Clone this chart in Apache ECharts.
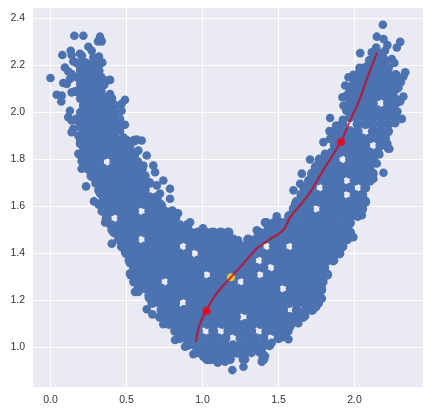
<!DOCTYPE html>
<html><head><meta charset="utf-8">
<style>html,body{margin:0;padding:0;background:#fff}#c{width:429px;height:414px}</style>
<script src="https://cdn.jsdelivr.net/npm/echarts@6/dist/echarts.min.js"></script>
</head><body><div id="c"></div>
<script>
const xTicks=[0,0.5,1,1.5,2];
const yTicks=[1,1.2,1.4,1.6,1.8,2,2.2,2.4];
const pathX=[.957,.970,.990,1.023,1.063,1.115,1.187,1.266,1.359,1.444,1.530,1.576,1.641,1.707,1.793,1.911,1.970,2.030,2.089,2.148];
const pathY=[1.023,1.074,1.113,1.155,1.202,1.248,1.299,1.355,1.423,1.461,1.499,1.554,1.605,1.660,1.754,1.877,1.966,2.051,2.157,2.255];
const redPoints=[[1.026,1.155],[1.911,1.875]];
const yellowPoint=[[1.187,1.299]];
const edgePoints=[[.157,2.327],[.216,2.327],[.326,2.323],[.313,2.303],[.337,2.303],[.078,2.245],[.133,2.263],[.139,2.245],[.194,2.25],[.207,2.242],[.249,2.28],[.271,2.263],[.282,2.235],[.319,2.238],[.341,2.213],[.15,2.218],[.095,2.192],[.117,2.175],[.139,2.164],[0,2.147],[.084,2.126],[.107,2.122],[.128,2.143],[.041,2.076],[.074,2.072],[.071,2.047],[.139,2.086],[.161,2.09],[.392,2.139],[.365,2.136],[.321,2.178],[.326,2.207],[.392,2.079],[.359,2.065],[.49,2.054],[.468,2.037],[.468,2.008],[.424,1.997],[.128,2.008],[.117,1.98],[.139,1.966],[.15,1.931],[.139,1.916],[.457,1.973],[.49,1.948],[.457,1.923],[.183,1.902],[.479,1.895],[.567,1.885],
[.194,1.867],[.183,1.825],[.205,1.793],[.205,1.761],[.234,1.686],[.282,1.732],[.304,1.704],[.326,1.656],[.286,1.622],[.337,1.58],[.359,1.532],[.403,1.499],[.403,1.442],[.49,1.421],[.6,1.881],[.578,1.838],[.633,1.817],[.611,1.775],[.676,1.775],[.688,1.746],[.742,1.711],[.699,1.69],[.786,1.676],[.72,1.655],[.786,1.633],[.732,1.605],[.839,1.571],
[1.003,1.507],[1.056,1.49],[1.159,1.486],[1.234,1.456],[1.094,1.453],[1.357,1.499],[1.258,1.428],[.918,1.533],
[1.488,1.558],[1.565,1.551],[1.411,1.533],[1.609,1.612],[1.686,1.648],[1.598,1.669],[1.642,1.697],[1.653,1.74],[1.707,1.8],[1.74,1.768],[1.806,1.825],[1.795,1.874],[1.839,1.888],[1.835,1.921],[1.879,1.945],[1.839,1.977],[1.923,1.969],[1.949,2.008],[1.927,2.03],[1.92,2.065],[2.015,2.079],[1.938,2.115],[1.971,2.11],[1.96,2.15],[1.992,2.161],[2.032,2.19],[2.091,2.178],[2.168,2.178],[2.037,2.253],[2.113,2.256],[2.142,2.277],[2.146,2.323],[2.186,2.374],[2.19,2.313],[2.216,2.287],[2.2,2.263],[2.186,2.235],[2.3,2.301],[2.278,2.277],[2.245,2.228],[2.262,2.211],[2.333,2.171],[2.321,2.153],[2.288,2.105],[2.245,2.136],[2.321,2.068],[2.267,2.061],[2.3,2.047],[2.282,2.004],[2.223,2.001],[2.311,1.973],[2.267,1.955],[2.216,1.867],[2.229,1.846],[2.163,1.822],[2.135,1.789],[2.19,1.744],[2.124,1.718],[2.069,1.626],[2.048,1.563],[1.959,1.52],[1.992,1.47],[2.146,1.783],[2.22,1.847],
[1.817,1.315],[1.773,1.279],[1.785,1.244],[1.785,1.209],[1.747,1.173],[1.675,1.134],[1.63,1.103],[1.615,1.142],[1.576,1.088],[1.565,1.035],[1.523,1.044],[1.455,1.02],[1.39,.982],[1.39,.94],[1.411,.964],[1.269,.918],[1.196,.904],[1.28,.95],[1.229,.975],[1.752,1.358],[1.872,1.413],[1.839,1.392],
[.523,1.359],[.523,1.316],[.556,1.237],[.578,1.237],[.648,1.211],[.633,1.163],[.67,1.141],[.732,1.16],[.742,1.099],[.819,1.032],[.885,1.003],[.94,.972],[1.005,.961],[1.05,.947],[1.1,.935],[1.148,.94],[.468,1.449],[.49,1.407],[.852,1.095]];
const rowY=[2.25,2.22,2.21,2.19,2.18,2.16,2.15,2.13,2.12,2.10,2.09,2.07,2.06,2.04,2.03,2.01,2.00,1.98,1.97,1.95,1.94,1.92,1.91,1.89,1.88,1.86,1.85,1.83,1.82,1.80,1.79,1.77,1.76,1.74,1.73,1.71,1.70,1.68,1.67,1.65,1.64,1.62,1.61,1.59,1.58,1.56,1.55,1.53,1.52,1.51,1.49,1.46,1.43,1.40,1.37,1.34,1.31,1.28,1.25,1.22,1.19,1.16,1.13,1.10,1.07,1.04,1.01,.98,.95];
const rowX=[
[2.13,2.18],
[2.1,2.15,2.2],
[.18,.23,.28],
[2.07,2.12,2.17,2.22],
[.2,.25,.3],
[2.02,2.07,2.12,2.17,2.22,2.27],
[.18,.23,.28,.33],
[2,2.05,2.1,2.15,2.2,2.25,2.3],
[.2,.25,.3,.35],
[1.97,2.02,2.07,2.12,2.17,2.22,2.27],
[.18,.23,.28,.33],
[1.95,2,2.05,2.1,2.15,2.2,2.25],
[.2,.25,.3,.35,.4],
[1.97,2.02,2.07,2.12,2.22,2.27],
[.22,.27,.32,.37,.42],
[1.95,2,2.05,2.1,2.15,2.2,2.25],
[.2,.25,.3,.35,.4],
[1.97,2.02,2.07,2.12,2.17,2.22,2.27],
[.17,.22,.27,.32,.37,.42],
[1.92,2.02,2.07,2.12,2.17,2.22],
[.2,.25,.3,.35,.4,.45],
[1.87,1.92,1.97,2.02,2.12,2.17,2.22],
[.22,.27,.32,.37,.42],
[1.85,1.9,1.95,2,2.05,2.1,2.15,2.2],
[.2,.25,.3,.35,.4,.45,.5,.55],
[1.87,1.92,1.97,2.02,2.07,2.17],
[.22,.27,.32,.37,.42,.47,.52],
[1.85,1.9,1.95,2,2.05,2.1,2.15],
[.2,.25,.3,.35,.4,.45,.5,.55],
[1.77,1.82,1.87,1.97,2.02,2.07,2.12],
[.22,.27,.32,.42,.47,.52,.57],
[1.75,1.8,1.85,1.9,1.95,2,2.05,2.1],
[.25,.3,.35,.4,.45,.5,.55,.6],
[1.72,1.77,1.82,1.87,1.92,1.97,2.02,2.07,2.12],
[.27,.32,.37,.42,.47,.52,.57,.62],
[1.7,1.75,1.8,1.85,1.9,2,2.05,2.1],
[.3,.35,.4,.45,.5,.55,.6,.65],
[1.67,1.72,1.82,1.87,1.92,1.97,2.07],
[.32,.37,.42,.47,.52,.57,.62],
[1.65,1.7,1.75,1.8,1.85,1.9,2,2.05],
[.35,.4,.45,.5,.55,.6,.65,.7],
[1.62,1.67,1.72,1.77,1.82,1.87,1.92,1.97,2.02,2.07],
[.32,.37,.42,.47,.52,.57,.62,.67,.72],
[1.6,1.65,1.7,1.8,1.85,1.9,1.95,2,2.05],
[.35,.4,.45,.5,.55,.65,.7,.75,.8],
[1.57,1.62,1.67,1.72,1.77,1.82,1.87,1.92,1.97,2.02],
[.37,.47,.52,.57,.62,.67,.72,.77,.82],
[1.42,1.47,1.52,1.57,1.62,1.67,1.72,1.77,1.82,1.87,1.92,1.97],
[.4,.45,.5,.55,.6,.65,.7,.75,.8,.85,.9],
[1.44,1.49,1.54,1.59,1.64,1.69,1.74,1.79,1.84,1.89,1.94],
[.42,.47,.52,.57,.62,.67,.72,.77,.82,.87,.92,.97,1.02,1.07,1.12,1.17,1.37,1.42,1.47,1.52,1.57,1.62,1.67,1.72,1.77,1.82,1.87,1.92,1.97],
[.45,.5,.55,.65,.7,.75,.8,.85,.9,.95,1,1.05,1.1,1.15,1.2,1.3,1.35,1.4,1.45,1.5,1.55,1.6,1.65,1.7,1.75,1.8,1.85,1.9,1.95],
[.47,.52,.57,.62,.67,.72,.77,.82,.92,.97,1.02,1.07,1.12,1.17,1.22,1.27,1.32,1.37,1.47,1.52,1.62,1.67,1.72,1.77,1.82,1.87,1.92],
[.5,.55,.6,.65,.7,.75,.8,.85,.9,1,1.05,1.1,1.15,1.2,1.25,1.3,1.35,1.4,1.45,1.5,1.55,1.6,1.65,1.7,1.75,1.8,1.85,1.9],
[.52,.57,.62,.67,.72,.77,.82,.87,.92,.97,1.02,1.07,1.12,1.17,1.22,1.27,1.32,1.42,1.47,1.52,1.57,1.62,1.67,1.72,1.77,1.82,1.86],
[.55,.6,.65,.7,.75,.8,.85,.9,.95,1,1.05,1.1,1.15,1.2,1.25,1.3,1.35,1.4,1.5,1.55,1.6,1.65,1.7,1.75,1.8],
[.53,.58,.63,.68,.73,.78,.83,.88,.93,.98,1.08,1.13,1.18,1.23,1.28,1.33,1.43,1.48,1.53,1.58,1.63,1.68,1.73,1.78,1.82],
[.55,.6,.65,.7,.8,.85,.9,.95,1,1.05,1.1,1.15,1.2,1.3,1.35,1.4,1.45,1.5,1.55,1.6,1.65,1.7,1.75,1.79],
[.58,.63,.68,.73,.78,.83,.88,.93,.98,1.03,1.08,1.13,1.18,1.23,1.28,1.33,1.38,1.43,1.48,1.58,1.63,1.68,1.73,1.78],
[.65,.7,.75,.8,.85,.9,.95,1,1.05,1.1,1.15,1.2,1.25,1.3,1.35,1.4,1.45,1.5,1.55,1.6,1.65,1.7,1.75],
[.67,.72,.77,.82,.92,.97,1.02,1.07,1.12,1.17,1.22,1.27,1.32,1.37,1.42,1.47,1.52,1.57,1.62,1.67,1.72,1.76],
[.73,.78,.83,.88,.93,.98,1.03,1.08,1.13,1.18,1.23,1.28,1.33,1.38,1.43,1.48,1.53,1.62,1.68,1.72],
[.72,.77,.82,.87,.92,.97,1.02,1.07,1.12,1.17,1.22,1.32,1.37,1.42,1.47,1.52,1.57,1.62,1.66],
[.78,.83,.88,.93,.98,1.03,1.08,1.13,1.18,1.23,1.28,1.33,1.38,1.43,1.48,1.53,1.58],
[.82,.87,.92,.97,1.07,1.17,1.22,1.27,1.32,1.42,1.47,1.52,1.56],
[.85,.9,.95,1,1.05,1.1,1.15,1.25,1.3,1.35,1.4,1.5],
[.9,.95,1,1.05,1.1,1.15,1.2,1.25,1.3,1.35,1.4,1.44],
[.97,1.02,1.07,1.12,1.17,1.22,1.27,1.32,1.38],
[1.03,1.08,1.13,1.18,1.27,1.4]
];
const fill=[];
rowX.forEach((xs,i)=>xs.forEach(x=>fill.push([x,rowY[i]])));
const path=pathX.map((x,i)=>[x,pathY[i]]);
const font='"Liberation Sans",Arial,sans-serif';
const axisCommon=(ticks,fmt)=>({
  type:'value',
  axisLine:{show:false},
  axisTick:{show:false,customValues:ticks},
  axisLabel:{customValues:ticks,formatter:fmt,color:'#333333',fontFamily:font,fontSize:10.5,hideOverlap:false},
  splitLine:{show:true,lineStyle:{color:'#ffffff',width:1}}
});
const chart=echarts.init(document.getElementById('c'),null,{renderer:'canvas'});
chart.setOption({
  animation:false,
  backgroundColor:'#ffffff',
  grid:{left:33,right:6,top:8,bottom:27,show:true,backgroundColor:'#eaeaf2',borderWidth:0},
  xAxis:Object.assign(axisCommon(xTicks,v=>v.toFixed(1)),{min:-0.115,max:2.45}),
  yAxis:Object.assign(axisCommon(yTicks,v=>v.toFixed(1)),{min:0.832,max:2.445}),
  series:[
    {type:'scatter',data:fill,symbolSize:10,itemStyle:{color:'#4c72b0',opacity:1},z:2,silent:true},
    {type:'scatter',data:edgePoints,symbolSize:8.6,itemStyle:{color:'#4c72b0',opacity:1},z:2,silent:true},
    {type:'scatter',data:yellowPoint,symbolSize:8,itemStyle:{color:'#ffdd22'},z:3,silent:true},
    {type:'line',data:path,smooth:0.3,showSymbol:false,lineStyle:{color:'rgba(205,0,30,0.72)',width:2.2},z:4,silent:true},
    {type:'scatter',data:redPoints,symbolSize:8,itemStyle:{color:'#f5000f'},z:5,silent:true}
  ]
});
</script></body></html>
